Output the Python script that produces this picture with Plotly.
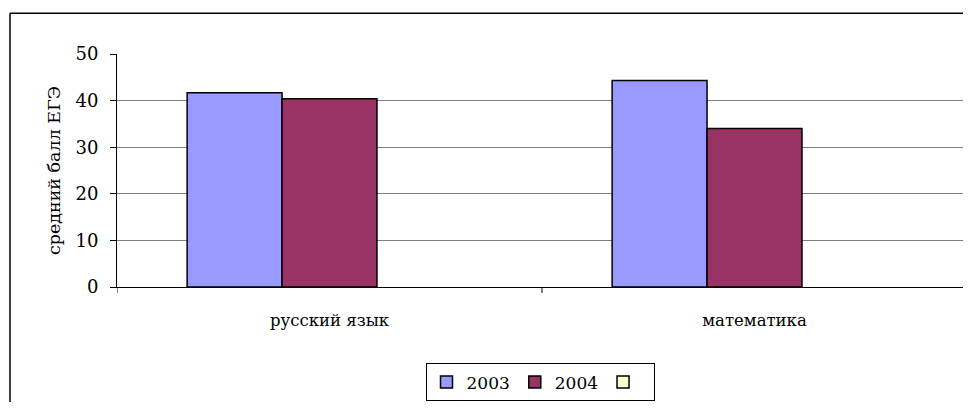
import plotly.graph_objects as go

categories = ["русский язык", "математика"]
series_names = ["2003", "2004", " "]
values_2003 = [41.7, 44.3]
values_2004 = [40.4, 34.0]
values_empty = [None, None]
colors = ["#9999FF", "#993366", "#FFFFCC"]

OFF = 8  # page body margin
W, H = 971 - 2 * OFF, 410 - 2 * OFF
# target screen positions of the plot area
SX0, SX1, SY0, SY1 = 117, 963, 54, 289
L, R, T, B = SX0 - OFF, W - (SX1 - OFF), SY0 - OFF, H - (SY1 - OFF)
pw, ph = W - L - R, H - T - B

def px(x):
    return (x - SX0) / pw

def py(y):
    return (SY1 - y) / ph

fig = go.Figure()
for name, vals, col in zip(series_names, [values_2003, values_2004, values_empty], colors):
    fig.add_trace(go.Bar(x=categories, y=vals, name=name,
                         marker=dict(color=col, line=dict(color="black", width=1.5))))

FONT = "DejaVu Serif"
fig.update_layout(
    width=W, height=H,
    margin=dict(l=L, r=R, t=T, b=B),
    paper_bgcolor="white", plot_bgcolor="white",
    barmode="group", bargap=0.33, bargroupgap=0,
    font=dict(family=FONT, size=16, color="black"),
    showlegend=True,
    legend=dict(orientation="h", x=px(540), xanchor="center", y=py(366), yanchor="top",
                bordercolor="black", borderwidth=1, font=dict(family=FONT, size=17),
                traceorder="normal", itemwidth=30),
    xaxis=dict(showline=True, linecolor="black", linewidth=1, ticks="", showgrid=False,
               range=[-0.5, -0.5 + pw / 425.0], ticklabelstandoff=18,
               tickfont=dict(family=FONT, size=16.5), automargin=False),
    yaxis=dict(range=[0, 50], dtick=10, showline=True, linecolor="black", linewidth=1,
               ticks="outside", ticklen=6, tickcolor="black", showgrid=True,
               gridcolor="#808080", gridwidth=1, ticklabelstandoff=8,
               tickfont=dict(family=FONT, size=18),
               title=dict(text="средний балл ЕГЭ", font=dict(family=FONT, size=17.5), standoff=10),
               zeroline=False, automargin=False),
    shapes=[
        dict(type="line", xref="paper", yref="paper", x0=px(10), x1=px(975), y0=py(13), y1=py(13),
             line=dict(color="black", width=1.5)),
        dict(type="line", xref="paper", yref="paper", x0=px(10), x1=px(10), y0=py(13), y1=py(420),
             line=dict(color="black", width=1.5)),
        dict(type="line", xref="x", yref="paper", x0=0.5, x1=0.5, y0=0, y1=py(295),
             line=dict(color="black", width=1)),
        dict(type="line", xref="x", yref="paper", x0=-0.5, x1=-0.5, y0=0, y1=py(295),
             line=dict(color="black", width=1)),
    ],
)
fig.write_html("out.html")
